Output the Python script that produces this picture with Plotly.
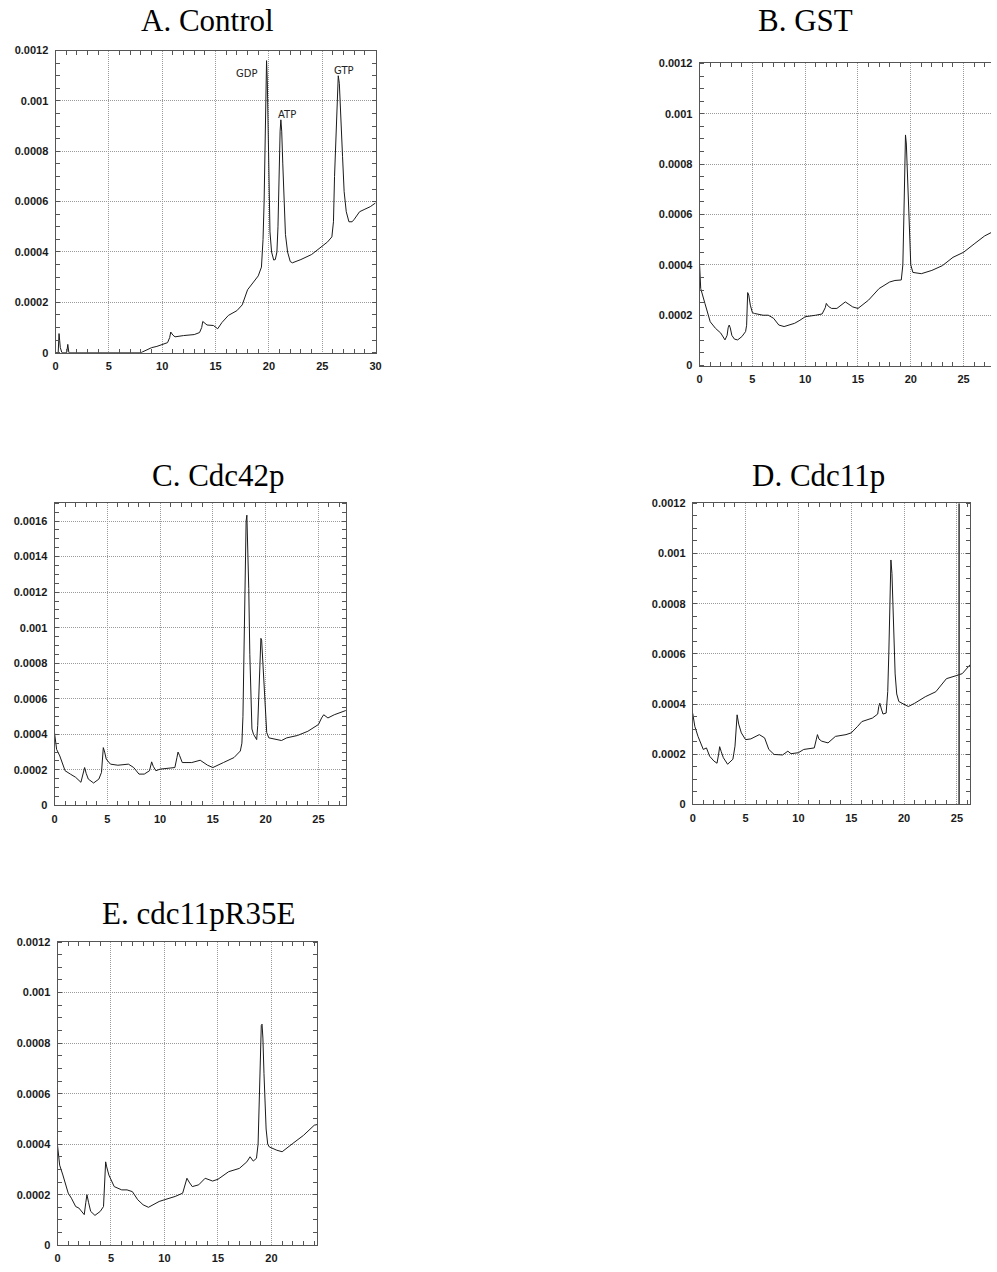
import plotly.graph_objects as go

# ---------------- data ----------------
A_time = [0, 0.25, 0.33, 0.45, 0.6, 1.05, 1.15, 1.25, 8.0, 8.5, 9.0, 9.5, 10.0, 10.5, 10.7, 10.8, 11.0, 11.2, 12.0,
          13.0, 13.5, 13.7, 13.8, 14.2, 14.8, 15.2, 15.6, 16.2, 17.0, 17.5, 18.0, 18.5, 19.0, 19.3, 19.45, 19.55,
          19.65, 19.72, 19.78, 19.85, 19.92, 20.0, 20.1, 20.25, 20.45, 20.6, 20.75, 20.85, 20.95, 21.05, 21.12,
          21.2, 21.3, 21.4, 21.55, 21.75, 22.0, 22.2, 23.0, 24.0, 25.0, 25.5, 25.9, 26.05, 26.15, 26.3, 26.42,
          26.5, 26.6, 26.75, 26.9, 27.05, 27.25, 27.5, 27.8, 28.0, 28.5, 29.0, 29.5, 30.0]
A_abs = [0, 0, 0.000076, 0.00002, 0, 0, 0.000033, 0, 0, 0.00001, 0.00002, 0.000025, 0.000034, 0.00004, 0.00006,
         0.000082, 0.00007, 0.000063, 0.000068, 0.000072, 0.00008, 0.0001, 0.000124, 0.00011, 0.000108, 0.000095,
         0.00012, 0.000148, 0.000167, 0.00019, 0.00025, 0.00028, 0.000305, 0.00034, 0.00045, 0.0006, 0.00085,
         0.00105, 0.00116, 0.00108, 0.0009, 0.00065, 0.00048, 0.0004, 0.000368, 0.00037, 0.0004, 0.0005, 0.00072,
         0.00088, 0.000925, 0.00088, 0.00075, 0.0006, 0.00047, 0.0004, 0.000362, 0.000357, 0.00037, 0.00039,
         0.000425, 0.00044, 0.00046, 0.00052, 0.0007, 0.0009, 0.00106, 0.0011, 0.00107, 0.00095, 0.00078, 0.00064,
         0.00056, 0.00052, 0.00052, 0.00053, 0.00056, 0.00057, 0.00058, 0.000595]

B_time = [0, 0.1, 0.5, 1.0, 1.5, 2.0, 2.4, 2.6, 2.7, 2.8, 2.9, 3.05, 3.3, 3.6, 4.0, 4.35, 4.45, 4.5, 4.55, 4.65,
          4.8, 5.0, 5.2, 6.0, 6.5, 7.0, 7.5, 8.0, 9.0, 9.5, 10.0, 11.0, 11.6, 11.9, 12.0, 12.2, 12.5, 13.0, 13.8,
          14.5, 15.0, 16.0, 17.0, 18.0, 18.5, 19.1, 19.25, 19.35, 19.42, 19.5, 19.58, 19.68, 19.78, 19.88, 20.0,
          20.2, 20.5, 21.0, 22.0, 23.0, 24.0, 25.0, 26.0, 27.0, 27.6]
B_abs = [0.000397, 0.000306, 0.000247, 0.000174, 0.000148, 0.000129, 0.000102, 0.00012, 0.00015, 0.000161,
         0.00015, 0.00012, 0.000105, 0.000102, 0.000115, 0.000135, 0.00016, 0.00025, 0.00029, 0.00028, 0.00024,
         0.00021, 0.000207, 0.0002, 0.0002, 0.000188, 0.000161, 0.000155, 0.000168, 0.00018, 0.000194, 0.0002,
         0.000205, 0.00023, 0.000247, 0.000235, 0.000227, 0.000227, 0.000253, 0.000233, 0.000227, 0.00026,
         0.000306, 0.000332, 0.000338, 0.00034, 0.0004, 0.0006, 0.0008, 0.000916, 0.00088, 0.00075, 0.0006,
         0.00048, 0.0004, 0.00037, 0.000367, 0.000365, 0.000378, 0.000397, 0.00043, 0.00045, 0.000483,
         0.000515, 0.000528]

C_time = [0, 0.2, 0.5, 1.0, 1.5, 2.0, 2.5, 2.7, 2.85, 3.0, 3.2, 3.7, 4.2, 4.45, 4.55, 4.62, 4.75, 4.9, 5.3, 6.0,
          7.0, 7.5, 8.0, 8.5, 9.0, 9.1, 9.2, 9.35, 9.6, 10.0, 11.0, 11.4, 11.6, 11.7, 11.85, 12.1, 13.0, 13.8,
          14.5, 15.0, 16.0, 17.0, 17.6, 17.75, 17.85, 17.95, 18.05, 18.15, 18.22, 18.3, 18.4, 18.5, 18.6, 18.7,
          18.85, 19.0, 19.15, 19.25, 19.35, 19.45, 19.55, 19.62, 19.72, 19.82, 19.95, 20.1, 20.3, 21.0, 21.5,
          22.0, 23.0, 24.0, 25.0, 25.3, 25.5, 25.9, 26.5, 27.6]
C_abs = [0.000408, 0.000315, 0.000278, 0.000195, 0.000176, 0.000158, 0.00013, 0.00017, 0.000213, 0.00018,
         0.000148, 0.000126, 0.000148, 0.000186, 0.00029, 0.000325, 0.0003, 0.00026, 0.000232, 0.000226,
         0.000232, 0.000213, 0.000176, 0.000176, 0.000195, 0.00023, 0.000245, 0.00022, 0.000195, 0.000204,
         0.000208, 0.000213, 0.00027, 0.0003, 0.00028, 0.000241, 0.000241, 0.000254, 0.000226, 0.000213,
         0.000241, 0.000269, 0.000306, 0.00035, 0.0005, 0.0009, 0.0013, 0.0016, 0.001633, 0.0015, 0.00122,
         0.00085, 0.00055, 0.00043, 0.0004, 0.00038, 0.00037, 0.00045, 0.0006, 0.00082, 0.00094, 0.00093,
         0.00082, 0.00065, 0.0005, 0.00041, 0.00038, 0.000371, 0.000365, 0.00038, 0.000393, 0.000417, 0.000455,
         0.000492, 0.00051, 0.000492, 0.00051, 0.000534]

D_time = [0, 0.2, 0.5, 1.0, 1.3, 1.6, 2.0, 2.3, 2.45, 2.55, 2.7, 2.9, 3.3, 3.8, 4.0, 4.1, 4.2, 4.35, 4.6, 5.0,
          5.5, 6.3, 6.8, 7.2, 7.7, 8.5, 9.0, 9.3, 10.0, 10.5, 11.5, 11.7, 11.8, 11.95, 12.2, 12.8, 13.5, 14.5,
          15.0, 15.6, 16.0, 17.0, 17.5, 17.6, 17.7, 17.85, 18.0, 18.3, 18.45, 18.55, 18.65, 18.75, 18.85, 18.95,
          19.05, 19.15, 19.3, 19.5, 19.8, 20.4, 21.0, 22.0, 23.0, 24.0, 25.0, 25.5, 26.25]
D_abs = [0.000363, 0.000311, 0.000271, 0.000219, 0.000225, 0.000192, 0.000173, 0.000164, 0.0002, 0.00023,
         0.00021, 0.000186, 0.00016, 0.00018, 0.000232, 0.0003, 0.000357, 0.00032, 0.000285, 0.000258, 0.000261,
         0.000278, 0.000265, 0.000219, 0.000199, 0.000197, 0.000212, 0.000202, 0.000206, 0.000219, 0.000225,
         0.00026, 0.000278, 0.00026, 0.000252, 0.000245, 0.000271, 0.000278, 0.000285, 0.000311, 0.00033,
         0.000344, 0.00036, 0.00039, 0.000403, 0.00038, 0.00036, 0.000364, 0.00045, 0.0006, 0.00085, 0.000974,
         0.00092, 0.00078, 0.00063, 0.00052, 0.00044, 0.00041, 0.000403, 0.00039, 0.000403, 0.000429, 0.000449,
         0.000501, 0.000514, 0.000521, 0.000557]
D_artifact_x = 25.2  # dark vertical scan line in panel D

E_time = [0, 0.2, 0.5, 1.0, 1.3, 1.7, 2.0, 2.5, 2.65, 2.75, 2.9, 3.1, 3.5, 4.0, 4.3, 4.4, 4.5, 4.6, 4.8, 5.3,
          6.0, 6.5, 7.0, 7.5, 8.0, 8.5, 9.5, 10.0, 11.0, 11.7, 11.95, 12.1, 12.3, 12.6, 13.2, 13.8, 14.5, 15.0,
          16.0, 17.0, 17.7, 18.0, 18.3, 18.6, 18.75, 18.85, 18.95, 19.05, 19.12, 19.2, 19.3, 19.4, 19.5, 19.65,
          19.8, 20.5, 21.0, 22.0, 23.0, 24.0, 24.3]
E_abs = [0.000396, 0.000317, 0.000278, 0.000206, 0.000186, 0.000153, 0.000147, 0.000121, 0.00017, 0.0002,
         0.00017, 0.000134, 0.000118, 0.000134, 0.000153, 0.00025, 0.00033, 0.00031, 0.000278, 0.000232,
         0.000219, 0.000219, 0.000212, 0.00018, 0.00016, 0.00015, 0.000173, 0.00018, 0.000193, 0.000206,
         0.00025, 0.000265, 0.00025, 0.000232, 0.000239, 0.000265, 0.000254, 0.000261, 0.000291, 0.000304,
         0.00033, 0.00035, 0.000333, 0.000344, 0.0004, 0.00055, 0.00078, 0.00087, 0.000875, 0.00082, 0.00068,
         0.00055, 0.00046, 0.0004, 0.000389, 0.000376, 0.00037, 0.000403, 0.000435, 0.000475, 0.000478]

titles = ["A. Control", "B. GST", "C. Cdc42p", "D. Cdc11p", "E. cdc11pR35E"]
peak_labels = ["GDP", "ATP", "GTP"]
peak_label_x = [17.9, 21.7, 27.0]
peak_label_y = [0.00111, 0.000945, 0.00112]

# ---------------- layout geometry ----------------
W, H = 997, 1272
# pixel boxes: left, right, top, bottom
boxes = [(53, 376, 45, 350), (703, 997, 58, 363), (52, 346, 502, 807), (696, 976, 502, 806), (55, 317, 945, 1251)]
xranges = [[0, 30], [0, 27.6], [0, 27.6], [0, 26.25], [0, 24.27]]
yranges = [[0, 0.0012], [0, 0.0012], [0, 0.0017], [0, 0.0012], [0, 0.0012]]
ytickvals = [[0, 0.0002, 0.0004, 0.0006, 0.0008, 0.001, 0.0012]] * 5
ytickvals[2] = [0, 0.0002, 0.0004, 0.0006, 0.0008, 0.001, 0.0012, 0.0014, 0.0016]
title_pos = [(206, 15), (810, 15), (217, 474), (823, 474), (197, 916)]

series = [(A_time, A_abs), (B_time, B_abs), (C_time, C_abs), (D_time, D_abs), (E_time, E_abs)]

fig = go.Figure()
line_style = dict(color="#1a1a1a", width=1)
tick_font = dict(family="Liberation Sans, Arial, sans-serif", size=11, color="#1a1a1a", weight="bold")
grid_style = dict(showgrid=True, gridcolor="#9a9a9a", griddash="1px,1px", gridwidth=1)
frame = dict(showline=True, linecolor="#555", linewidth=1, ticks="", zeroline=False)

for i, (t, a) in enumerate(series):
    sfx = "" if i == 0 else str(i + 1)
    fig.add_trace(go.Scatter(x=t, y=a, mode="lines", line=line_style, xaxis="x" + sfx, yaxis="y" + sfx,
                             showlegend=False, hoverinfo="x+y"))

# artifact line in D
fig.add_trace(go.Scatter(x=[D_artifact_x, D_artifact_x], y=yranges[3], mode="lines",
                         line=dict(color="#333", width=1.5), xaxis="x4", yaxis="y4", showlegend=False))

layout = dict(width=W, height=H, margin=dict(l=0, r=0, t=0, b=0), paper_bgcolor="white", plot_bgcolor="white",
              annotations=[])
for i in range(5):
    l, r, tp, bt = boxes[i]
    sfx = "" if i == 0 else str(i + 1)
    xa = dict(domain=[l / W, r / W], range=xranges[i], anchor="y" + sfx, dtick=5, tick0=0,
              mirror="ticks", tickfont=tick_font, ticklabelstandoff=3,
              minor=dict(ticks="inside", dtick=1, ticklen=4, tickcolor="#555", showgrid=False),
              **grid_style, **frame)
    ya = dict(domain=[1 - bt / H, 1 - tp / H], range=yranges[i], anchor="x" + sfx,
              tickvals=ytickvals[i], ticktext=[("%g" % v) if v else "0" for v in ytickvals[i]],
              mirror=("ticks" if i != 1 else False), tickfont=tick_font, ticklabelstandoff=4,
              minor=dict(ticks="inside", dtick=0.00005, ticklen=4, tickcolor="#555", showgrid=False),
              **grid_style, **frame)
    layout["xaxis" + sfx] = xa
    layout["yaxis" + sfx] = ya
    tx, ty = title_pos[i]
    layout["annotations"].append(dict(text=titles[i], x=tx / W, y=1 - ty / H, xref="paper", yref="paper",
                                      showarrow=False, xanchor="center", yanchor="middle",
                                      font=dict(family="Liberation Serif, Times New Roman, serif", size=31,
                                                color="black")))

for lab, lx, ly in zip(peak_labels, peak_label_x, peak_label_y):
    layout["annotations"].append(dict(text=lab, x=lx, y=ly, xref="x", yref="y", showarrow=False,
                                      font=dict(family="DejaVu Sans, sans-serif", size=10, color="#222")))

fig.update_layout(**layout)
fig.write_html("out.html", config={"displayModeBar": False},
               post_script="document.body.style.margin='0';document.body.style.overflow='hidden';")
